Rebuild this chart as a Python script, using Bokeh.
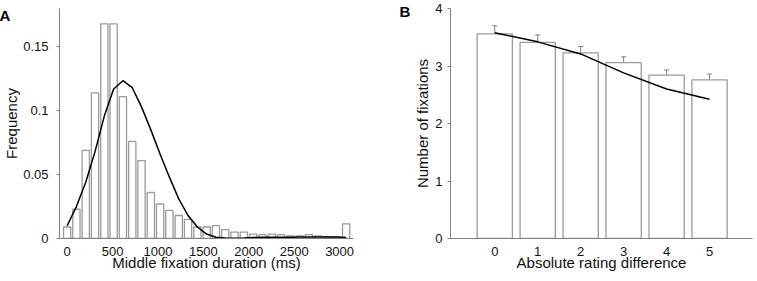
from bokeh.plotting import figure
from bokeh.layouts import row
from bokeh.models import FixedTicker, Whisker, ColumnDataSource, TeeHead, Range1d
from bokeh.embed import file_html
from bokeh.resources import INLINE

# ---------------- Panel A data ----------------
bin_centers = [0, 102, 205, 307, 410, 512, 614, 717, 819, 922, 1024, 1126, 1229, 1331,
               1434, 1536, 1638, 1741, 1843, 1946, 2048, 2150, 2253, 2355, 2458, 2560,
               2662, 2765, 2867, 2970, 3072]
frequency = [0.009, 0.023, 0.069, 0.114, 0.168, 0.168, 0.111, 0.076, 0.061, 0.036,
             0.027, 0.022, 0.018, 0.015, 0.009, 0.009, 0.010, 0.007, 0.005, 0.005,
             0.0034, 0.003, 0.0034, 0.003, 0.002, 0.002, 0.003, 0.002, 0.0013, 0.001,
             0.0115]
fit_curve = [0.010, 0.025, 0.044, 0.068, 0.096, 0.117, 0.1235, 0.118, 0.103, 0.085,
             0.066, 0.048, 0.031, 0.018, 0.009, 0.0035, 0.001, 0.0003, 0.0002, 0.0004,
             0.0008, 0.001, 0.001, 0.001, 0.001, 0.0012, 0.0012, 0.0012, 0.0012, 0.0012,
             0.0008]
x_ticks_a = [0, 500, 1000, 1500, 2000, 2500, 3000]
y_ticks_a = [0, 0.05, 0.1, 0.15]
y_tick_labels_a = ["0", "0.05", "0.1", "0.15"]

# ---------------- Panel B data ----------------
rating_diff = [0, 1, 2, 3, 4, 5]
n_fixations = [3.56, 3.41, 3.23, 3.06, 2.84, 2.76]
err_lower = [3.42, 3.29, 3.13, 2.96, 2.75, 2.67]
err_upper = [3.70, 3.54, 3.34, 3.16, 2.93, 2.86]
model_fixations = [3.58, 3.42, 3.21, 2.88, 2.60, 2.42]
y_ticks_b = [0, 1, 2, 3, 4]

FONT = "Liberation Sans"
AXIS_COL = "#808080"
BAR_COL = "#9a9a9a"


def base_style(p, panel_letter, letter_offset, letter_standoff):
    p.grid.visible = False
    p.outline_line_color = None
    p.background_fill_color = "white"
    p.border_fill_color = "white"
    for ax in (p.xaxis[0], p.yaxis[0]):
        ax.axis_line_color = AXIS_COL
        ax.axis_line_width = 1
        ax.minor_tick_line_color = None
        ax.major_label_text_font = FONT
        ax.major_label_text_font_size = "13px"
        ax.major_label_text_color = "#111111"
        ax.axis_label_text_font = FONT
        ax.axis_label_text_font_size = "15px"
        ax.axis_label_text_font_style = "normal"
        ax.axis_label_text_color = "#111111"
    # x axis: no tick marks
    p.xaxis.major_tick_line_color = None
    p.xaxis.major_tick_out = 0
    p.xaxis.major_tick_in = 0
    p.xaxis.major_label_standoff = 8
    p.xaxis.axis_label_standoff = -5
    # y axis: short outward ticks
    p.yaxis.major_tick_line_color = AXIS_COL
    p.yaxis.major_tick_out = 3
    p.yaxis.major_tick_in = 0
    # panel letter as the figure title, pulled into the top-left corner
    p.title.text = panel_letter
    p.title.align = "left"
    p.title.vertical_align = "bottom"
    p.title.offset = letter_offset
    p.title.standoff = letter_standoff
    p.title.text_font = FONT
    p.title.text_font_size = "15px"
    p.title.text_font_style = "bold"
    p.title.text_color = "black"


# ---------------- Panel A ----------------
pa = figure(width=380, height=281, x_range=Range1d(-84, 3153), y_range=Range1d(0, 0.18),
            output_backend="svg", toolbar_location=None,
            min_border_left=57, min_border_right=27, min_border_top=8, min_border_bottom=43)
pa.vbar(x=bin_centers, top=frequency, width=80, bottom=0,
        fill_color="white", line_color=BAR_COL, line_width=1.3)
pa.line(bin_centers, fit_curve, line_color="black", line_width=1.5)
base_style(pa, "A", -60, -30)
pa.xaxis.ticker = FixedTicker(ticks=x_ticks_a)
pa.yaxis.ticker = FixedTicker(ticks=y_ticks_a)
pa.yaxis.major_label_overrides = {t: s for t, s in zip(y_ticks_a, y_tick_labels_a)}
pa.yaxis.major_label_standoff = 8
pa.yaxis.axis_label_standoff = 0
pa.xaxis.axis_label = "Middle fixation duration (ms)"
pa.yaxis.axis_label = "Frequency"

# ---------------- Panel B ----------------
src_b = ColumnDataSource(dict(x=rating_diff, top=n_fixations, lo=err_lower, hi=err_upper))
pb = figure(width=377, height=281, x_range=Range1d(-1.03, 6.0), y_range=Range1d(0, 4.0),
            output_backend="svg", toolbar_location=None,
            min_border_left=70, min_border_right=5, min_border_top=8, min_border_bottom=43)
pb.vbar(x="x", top="top", width=0.82, bottom=0, source=src_b,
        fill_color="white", line_color=BAR_COL, line_width=1.3)
pb.add_layout(Whisker(source=src_b, base="x", lower="lo", upper="hi",
                      line_color=AXIS_COL, line_width=1,
                      upper_head=TeeHead(size=5, line_color=AXIS_COL, line_width=1),
                      lower_head=TeeHead(size=5, line_color=AXIS_COL, line_width=1)))
pb.line(rating_diff, model_fixations, line_color="black", line_width=1.5)
base_style(pb, "B", -51, -22)
pb.xaxis.ticker = FixedTicker(ticks=rating_diff)
pb.yaxis.ticker = FixedTicker(ticks=y_ticks_b)
pb.yaxis.major_label_standoff = 5
pb.yaxis.axis_label_standoff = 1
pb.xaxis.axis_label = "Absolute rating difference"
pb.yaxis.axis_label = "Number of fixations"

layout = row(pa, pb)
open("out.html", "w").write(file_html(layout, INLINE))
